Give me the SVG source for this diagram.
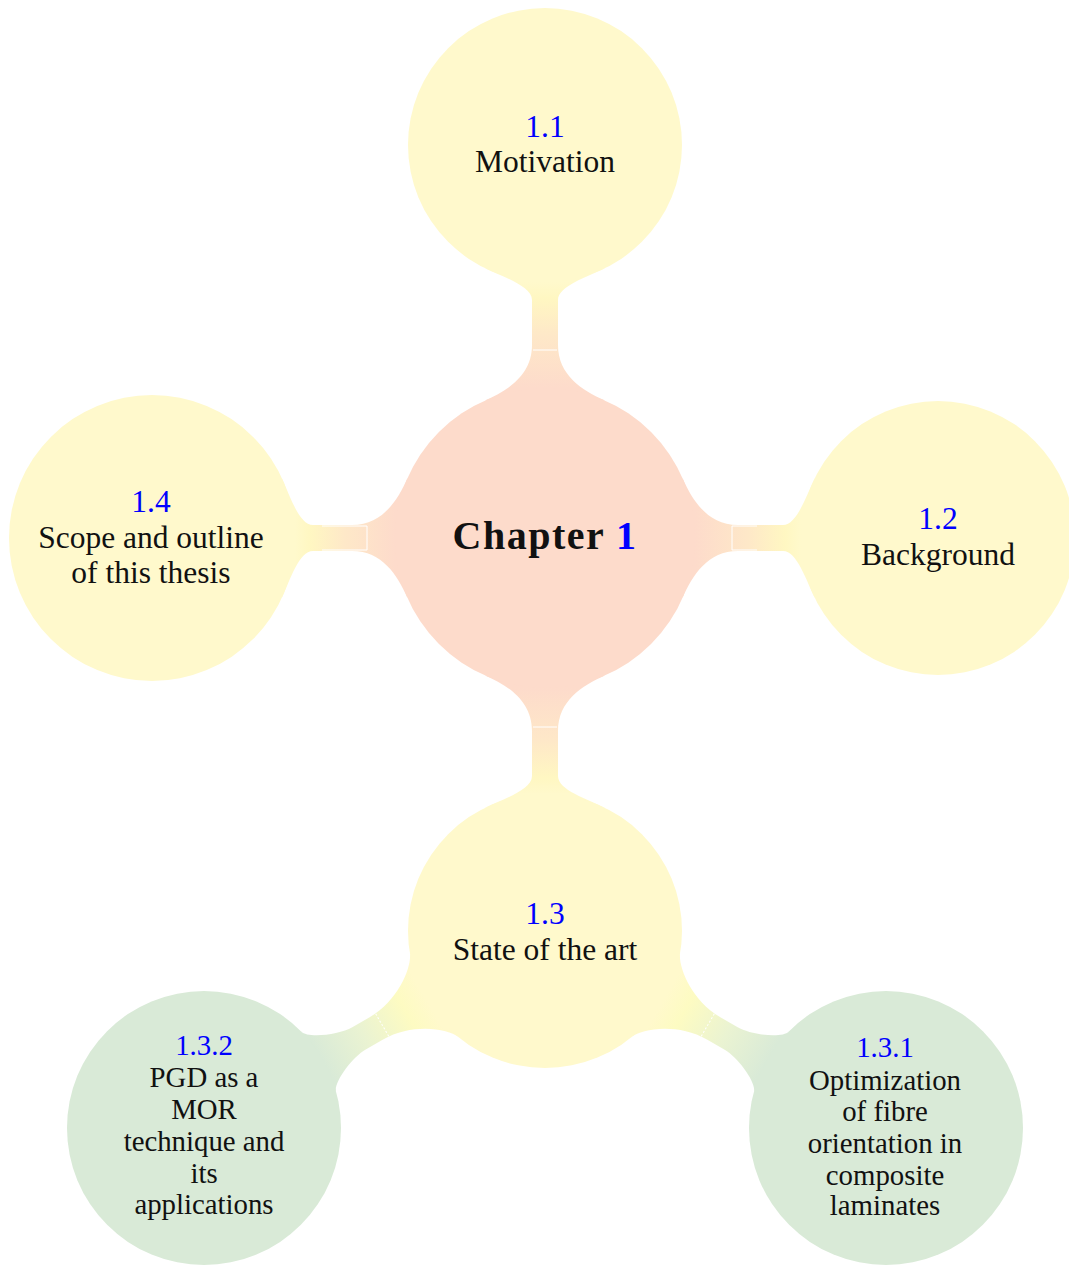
<svg xmlns="http://www.w3.org/2000/svg" width="1069" height="1265" viewBox="0 0 1069 1265">
  <style>
    .root { fill: #FDDBCB; }
    .lvl1 { fill: #FFF9CC; }
    .lvl2 { fill: #D9EAD7; }
    .t1 { font-family: "Liberation Serif", "Times New Roman", serif; font-size: 31.5px; fill: #111; text-anchor: middle; }
    .t2 { font-family: "Liberation Serif", "Times New Roman", serif; font-size: 28.8px; fill: #111; text-anchor: middle; }
    .num { fill: #0000FF; }
    .title { font-family: "Liberation Serif", "Times New Roman", serif; font-size: 40px; font-weight: bold; fill: #111; text-anchor: middle; letter-spacing: 1.5px; }
    .art { fill: none; stroke: #FFFFFF; stroke-width: 1; }
    .dot { fill: none; stroke: #FFFFFF; stroke-width: 1; stroke-dasharray: 2 2; }
  </style>
  <defs>
    <linearGradient id="gRY" gradientUnits="userSpaceOnUse" x1="150" y1="0" x2="256" y2="0">
      <stop offset="0" stop-color="#FDDBCB"/>
      <stop offset="0.5" stop-color="#FEE8C8"/>
      <stop offset="0.85" stop-color="#FFF7C2"/>
      <stop offset="1" stop-color="#FFF9CC"/>
    </linearGradient>
    <linearGradient id="gRYL" gradientUnits="userSpaceOnUse" x1="150" y1="0" x2="250" y2="0">
      <stop offset="0" stop-color="#FDDBCB"/>
      <stop offset="0.5" stop-color="#FEE8C8"/>
      <stop offset="0.85" stop-color="#FFF7C2"/>
      <stop offset="1" stop-color="#FFF9CC"/>
    </linearGradient>
    <linearGradient id="gYG" gradientUnits="userSpaceOnUse" x1="137" y1="0" x2="257" y2="0">
      <stop offset="0" stop-color="#FFF9CC"/>
      <stop offset="0.2" stop-color="#FDFBC2"/>
      <stop offset="0.6" stop-color="#EAF3D2"/>
      <stop offset="1" stop-color="#D9EAD7"/>
    </linearGradient>
    <path id="conA" d="M 137.5 60 C 147.5 37.1 163 13 193 13 L 238 13 C 252 13 261 42 269.8 60 L 269.8 -60 C 261 -42 252 -13 238 -13 L 193 -13 C 163 -13 147.5 -37.1 137.5 -60 Z"/>
    <path id="conL" d="M 137.5 60 C 147.5 37.1 163 13 193 13 L 232 13 C 246 13 254.8 41.8 263.2 60 L 263.2 -60 C 254.8 -41.8 246 -13 232 -13 L 193 -13 C 163 -13 147.5 -37.1 137.5 -60 Z"/>
    <path id="conB" d="M 128.3 48 C 132.5 36.8 160 13 195 13 L 215 13 C 230 13 259 25.3 261.5 35 L 261.5 -35 C 259 -25.3 230 -13 215 -13 L 195 -13 C 160 -13 132.5 -36.8 128.3 -48 Z"/>
  </defs>

  <g id="connectors">
    <g transform="translate(545,538) rotate(-90)">
      <use href="#conA" fill="url(#gRY)"/>
      <line class="art" x1="188" y1="-12" x2="188" y2="12"/>
    </g>
    <g transform="translate(545,538)">
      <use href="#conA" fill="url(#gRY)"/>
      <path class="art" d="M 212 -12 H 187 V 12 H 212"/>
    </g>
    <g transform="translate(545,538) rotate(90)">
      <use href="#conA" fill="url(#gRY)"/>
      <line class="art" x1="189" y1="-12" x2="189" y2="12"/>
    </g>
    <g transform="translate(545,538) rotate(180)">
      <use href="#conL" fill="url(#gRYL)"/>
      <path class="art" d="M 223 -12 H 178 V 12 H 223"/>
    </g>
    <g transform="translate(545,931) rotate(30)">
      <use href="#conB" fill="url(#gYG)"/>
      <line class="dot" x1="188" y1="-13" x2="188" y2="13"/>
    </g>
    <g transform="translate(545,931) rotate(150)">
      <use href="#conB" fill="url(#gYG)"/>
      <line class="dot" x1="188" y1="-13" x2="188" y2="13"/>
    </g>
  </g>

  <g id="chapter">
    <circle class="root" cx="545" cy="538" r="150"/>
    <text class="title" x="545" y="549">Chapter <tspan class="num">1</tspan></text>
  </g>

  <g id="sec-1-1">
    <circle class="lvl1" cx="545" cy="145" r="137"/>
    <text class="t1 num" x="545" y="137">1.1</text>
    <text class="t1" x="545" y="172">Motivation</text>
  </g>

  <g id="sec-1-2">
    <circle class="lvl1" cx="938" cy="538" r="137"/>
    <text class="t1 num" x="938" y="528.5">1.2</text>
    <text class="t1" x="938" y="564.5">Background</text>
  </g>

  <g id="sec-1-3">
    <circle class="lvl1" cx="545" cy="931" r="137"/>
    <text class="t1 num" x="545" y="924">1.3</text>
    <text class="t1" x="545" y="960">State of the art</text>
  </g>

  <g id="sec-1-4">
    <circle class="lvl1" cx="152" cy="538" r="143"/>
    <text class="t1 num" x="151" y="512">1.4</text>
    <text class="t1" x="151" y="548">Scope and outline</text>
    <text class="t1" x="151" y="583">of this thesis</text>
  </g>

  <g id="sec-1-3-1">
    <circle class="lvl2" cx="886" cy="1128" r="137"/>
    <text class="t2 num" x="885" y="1057">1.3.1</text>
    <text class="t2" x="885" y="1090">Optimization</text>
    <text class="t2" x="885" y="1121">of fibre</text>
    <text class="t2" x="885" y="1153">orientation in</text>
    <text class="t2" x="885" y="1184.5">composite</text>
    <text class="t2" x="885" y="1215">laminates</text>
  </g>

  <g id="sec-1-3-2">
    <circle class="lvl2" cx="204" cy="1128" r="137"/>
    <text class="t2 num" x="204" y="1055">1.3.2</text>
    <text class="t2" x="204" y="1087">PGD as a</text>
    <text class="t2" x="204" y="1119">MOR</text>
    <text class="t2" x="204" y="1151">technique and</text>
    <text class="t2" x="204" y="1183">its</text>
    <text class="t2" x="204" y="1214">applications</text>
  </g>
</svg>
